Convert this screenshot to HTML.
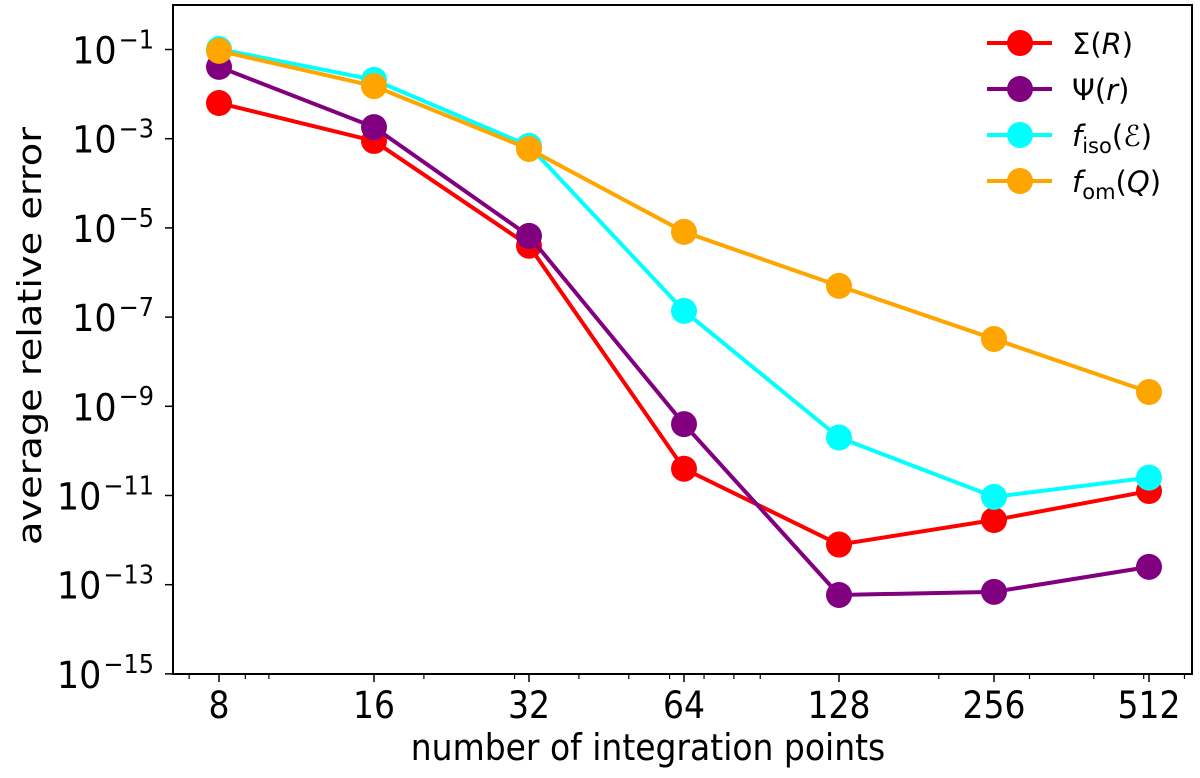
<!DOCTYPE html>
<html><head><meta charset="utf-8"><style>
body{margin:0;background:#fff}
svg{display:block;font-family:"DejaVu Sans","Liberation Sans",sans-serif}
</style></head><body>
<svg id="chart" width="1200" height="778" viewBox="0 0 1200 778"></svg>
<script>
const categories=[8,16,32,64,128,256,512];
const sigmaR=[-2.2,-3.05,-5.4,-10.4,-12.1,-11.55,-10.9];
const psiR=[-1.39,-2.74,-5.18,-9.4,-13.23,-13.16,-12.6];
const fIso=[-0.99,-1.68,-3.16,-6.86,-9.7,-11.03,-10.6];
const fOm=[-1.03,-1.82,-3.23,-5.09,-6.3,-7.49,-8.68];
const yTicks=[-1,-3,-5,-7,-9,-11,-13,-15];
const xTickLabels=["8","16","32","64","128","256","512"];
const NS="http://www.w3.org/2000/svg";
const svg=document.getElementById('chart');
const L=173,R=1192,T=5,B=674;
function xs(v){return 219+155*Math.log2(v/8);}
function ys(lg){return 49.5+(-1-lg)*44.6;}
function mk(tag,at,parent){const e=document.createElementNS(NS,tag);for(const k in at)e.setAttribute(k,at[k]);(parent||svg).appendChild(e);return e;}
const frame=mk('rect',{x:L,y:T,width:R-L,height:B-T,fill:'none',stroke:'#000','stroke-width':2});


yTicks.forEach(t=>{
  const y=ys(t);
  const tk=mk('line',{x1:L-8,x2:L,y1:y,y2:y,stroke:'#000','stroke-width':1.5});
  
  
  const tx=mk('text',{x:154,y:y+14,'text-anchor':'end','font-size':35,transform:'translate(0,'+(y+14)+') scale(1,1.08) translate(0,'+(-(y+14))+')'});
  
  
  tx.innerHTML='10<tspan dx="2" dy="-14" font-size="24">\u2212'+Math.abs(t)+'</tspan>';
});
[6,7,9,10,20,30,40,50,60,70,80,90,200,300,400,500,600,700,800,900].forEach(v=>{
  const x=xs(v); if(x<=L||x>=R)return;
  const tk=mk('line',{x1:x,x2:x,y1:B,y2:B+5,stroke:'#000','stroke-width':1.2});
  
  
});
categories.forEach((c,i)=>{
  const x=xs(c);
  const tk=mk('line',{x1:x,x2:x,y1:B,y2:B+8,stroke:'#000','stroke-width':1.5});
  
  
  const tx=mk('text',{x:0,y:0,'text-anchor':'middle','font-size':33,transform:'translate('+x+','+(B+44)+') scale(1,1.12)'});
  
  
  tx.textContent=xTickLabels[i];
});
const yt=mk('text',{x:0,y:0,'text-anchor':'middle','font-size':33,transform:'translate(41,336) scale(1,1.16) rotate(-90)'});


yt.textContent='average relative error';
const xt=mk('text',{x:0,y:0,'text-anchor':'middle','font-size':33,transform:'translate(648,760) scale(1,1.1)'});


xt.textContent='number of integration points';
const series=[[sigmaR,'#ff0000','sigma'],[psiR,'#800080','psi'],[fIso,'#00ffff','f-iso'],[fOm,'#ffa500','f-om']];
series.forEach(([d,col,nm])=>{
  const g=mk('g',{});
  
  
  const pl=mk('polyline',{points:d.map((v,i)=>xs(categories[i])+','+ys(v)).join(' '),fill:'none',stroke:col,'stroke-width':4},g);
  
  
  d.forEach((v,i)=>{
    const c=mk('circle',{cx:xs(categories[i]),cy:ys(v),r:13,fill:col},g);
    
    
  });
});
const labels=['\u03A3(<tspan font-style="italic">R</tspan>)','\u03A8(<tspan font-style="italic">r</tspan>)',
'<tspan font-style="italic">f</tspan><tspan font-size="21" dy="7">iso</tspan><tspan dy="-7">(</tspan><tspan font-style="italic">\u2130</tspan>)',
'<tspan font-style="italic">f</tspan><tspan font-size="21" dy="7">om</tspan><tspan dy="-7">(</tspan><tspan font-style="italic">Q</tspan>)'];
series.forEach(([d,col,nm],i)=>{
  const y=43+i*46;
  const g=mk('g',{});
  
  
  mk('line',{x1:987,x2:1052,y1:y,y2:y,stroke:col,'stroke-width':4},g);
  mk('circle',{cx:1020,cy:y,r:13,fill:col},g);
  const t=mk('text',{x:1072,y:y+11,'font-size':29},g);
  t.innerHTML=labels[i];
});
</script>
</body></html>
